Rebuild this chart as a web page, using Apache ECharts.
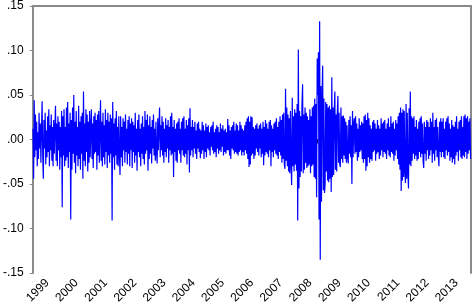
<!DOCTYPE html>
<html><head><meta charset="utf-8">
<script src="https://cdn.jsdelivr.net/npm/echarts@6/dist/echarts.min.js"></script>
<style>html,body{margin:0;padding:0;background:#fff}#c{width:473px;height:308px}</style>
</head><body><div id="c"></div>
<script>
const years = [1999,2000,2001,2002,2003,2004,2005,2006,2007,2008,2009,2010,2011,2012,2013];
const yTicks = [-0.15,-0.10,-0.05,0.00,0.05,0.10,0.15];
// approximate weekly-resolution readings of the daily return series, one array per year
const r1999 = [0.012,-0.044,0.044,-0.02,0.028,-0.012,0.02,-0.03,0.008,-0.022,0.03,-0.01,0.018,-0.026,0.012,0.043,-0.018,-0.044,0.022,-0.01,0.03,-0.028,0.01,-0.02,0.026,-0.014,0.034,-0.03,0.016,-0.012,0.028,-0.024,0.014,-0.03,0.022,-0.016,0.012,0.038,-0.024,0.018,-0.03,0.026,-0.012,0.02,-0.034,0.014,-0.02,0.032];
const r2000 = [-0.076,0.026,-0.018,0.034,-0.03,0.014,-0.024,0.036,-0.02,0.042,-0.032,0.018,-0.014,0.03,-0.09,0.022,-0.034,0.036,-0.016,0.05,-0.026,0.02,-0.038,0.032,-0.018,0.014,-0.03,0.038,-0.022,0.02,-0.034,0.026,-0.016,0.03,-0.044,0.054,-0.024,0.018,-0.03,0.034,-0.014,0.028,-0.036,0.02,-0.026,0.032,-0.02,0.016];
const r2001 = [0.034,-0.022,0.018,-0.032,0.026,-0.016,0.03,-0.014,0.022,-0.034,0.028,-0.018,0.032,-0.026,0.012,0.044,-0.024,0.02,-0.03,0.03,-0.02,0.016,-0.028,0.034,-0.014,0.022,-0.032,0.03,-0.018,0.02,-0.026,0.028,-0.016,0.024,-0.091,0.042,-0.02,0.018,-0.034,0.024,-0.018,0.032,-0.028,0.014,-0.03,0.026,-0.016,-0.04];
const r2002 = [0.026,-0.02,0.014,-0.03,0.024,-0.012,0.02,-0.026,0.028,-0.014,0.012,-0.028,0.022,-0.016,0.026,-0.03,0.018,-0.012,0.024,-0.032,0.02,-0.014,0.016,-0.026,0.03,-0.018,0.012,-0.035,0.022,-0.014,0.028,-0.02,0.012,-0.03,0.018,-0.016,0.026,-0.022,0.014,-0.028,0.032,-0.016,0.022,-0.012,0.028,-0.035,0.016,-0.022];
const r2003 = [0.026,-0.016,0.014,-0.027,0.022,-0.01,0.028,-0.018,0.012,-0.024,0.02,-0.014,-0.027,0.024,-0.012,0.014,0.036,-0.02,0.016,-0.012,0.026,-0.018,0.02,-0.026,0.012,-0.014,0.024,-0.02,0.016,-0.01,0.022,-0.026,0.014,-0.012,0.026,-0.018,0.03,-0.016,0.014,-0.042,0.022,-0.014,0.012,-0.024,0.018,-0.026,0.02,-0.012];
const r2004 = [0.024,-0.016,0.012,-0.026,0.02,-0.012,0.024,-0.018,0.026,-0.02,0.012,-0.016,0.022,-0.028,0.016,-0.012,0.024,-0.037,0.035,-0.018,0.014,-0.012,0.022,-0.02,0.014,-0.01,0.02,-0.016,0.01,-0.022,0.018,-0.01,0.02,-0.014,0.012,-0.021,0.01,-0.016,0.02,-0.012,0.016,-0.022,0.01,-0.014,0.018,-0.02,0.014,-0.01];
const r2005 = [0.016,-0.012,0.008,-0.018,0.014,-0.008,0.016,-0.012,0.02,-0.016,0.008,-0.014,0.012,-0.02,0.016,-0.01,0.014,-0.016,0.008,-0.012,0.018,-0.014,0.012,-0.008,0.016,-0.018,0.01,-0.014,0.012,-0.016,0.008,-0.012,0.023,-0.012,0.016,-0.018,0.01,-0.022,0.014,-0.01,0.016,-0.012,0.02,-0.016,0.01,-0.014,0.018,-0.016];
const r2006 = [0.016,-0.018,0.01,-0.014,0.02,-0.012,0.016,-0.018,0.012,-0.014,0.01,-0.018,0.016,-0.012,0.02,-0.016,0.024,-0.022,0.026,-0.031,0.02,-0.028,0.026,-0.018,0.025,-0.016,0.014,-0.022,0.012,-0.018,0.016,-0.01,0.018,-0.014,0.012,-0.018,0.016,-0.01,0.018,-0.02,0.012,-0.016,0.02,-0.029,0.014,-0.018,0.022,-0.014];
const r2007 = [0.018,-0.016,0.012,-0.02,0.02,-0.012,0.022,-0.03,0.016,-0.014,0.012,-0.02,0.018,-0.012,0.02,-0.016,0.024,-0.018,0.014,-0.022,0.02,-0.014,0.026,-0.018,0.022,-0.026,0.028,-0.022,0.03,-0.028,-0.033,0.057,-0.024,0.036,-0.03,0.028,-0.036,0.024,-0.038,0.032,-0.026,-0.051,0.047,-0.03,0.026,-0.036,0.034,-0.028];
const r2008 = [0.03,-0.035,0.04,-0.091,0.101,-0.055,0.032,-0.042,0.026,-0.036,0.04,0.062,-0.038,0.028,-0.034,0.036,-0.026,0.03,-0.032,0.026,-0.03,0.022,-0.028,0.034,-0.038,0.026,-0.03,0.036,-0.028,0.038,-0.042,0.046,-0.044,0.04,-0.065,0.091,0.05,0.098,-0.09,0.133,-0.135,0.06,-0.07,0.05,0.083,-0.057,0.046,-0.06];
const r2009 = [-0.05,0.042,-0.036,0.04,-0.046,0.036,-0.048,0.038,-0.044,0.034,-0.059,0.07,-0.042,0.036,-0.04,0.032,0.054,-0.034,0.028,-0.036,0.03,0.049,-0.026,0.03,-0.028,-0.031,0.036,-0.022,0.026,-0.026,0.027,-0.018,0.024,-0.022,0.02,-0.026,0.016,-0.02,-0.027,0.022,-0.016,0.026,-0.02,0.016,-0.05,0.032,-0.02,0.018];
const r2010 = [0.024,-0.016,0.026,-0.014,0.018,-0.024,0.012,-0.02,0.024,-0.014,0.016,-0.012,0.02,-0.022,0.018,-0.026,0.026,-0.022,0.028,-0.035,0.022,-0.03,0.03,-0.02,0.024,-0.026,0.016,-0.022,0.012,-0.024,0.02,-0.014,0.022,-0.012,0.018,-0.024,0.012,-0.016,0.022,-0.014,0.016,-0.022,0.012,-0.018,0.024,-0.012,0.018,-0.02];
const r2011 = [0.02,-0.014,0.022,-0.016,0.012,-0.022,0.018,-0.012,0.024,-0.018,0.014,-0.02,0.026,-0.014,0.018,-0.016,0.02,-0.024,0.012,-0.018,0.022,-0.012,0.018,-0.022,0.026,-0.028,0.03,-0.034,0.036,-0.058,0.03,-0.046,0.034,-0.042,0.032,-0.036,-0.049,0.04,-0.044,0.03,-0.038,-0.055,0.035,-0.028,0.054,-0.03,0.026,-0.024];
const r2012 = [0.024,-0.016,0.026,-0.022,0.014,-0.018,0.022,-0.024,0.012,-0.022,0.02,-0.014,0.024,-0.02,0.026,-0.016,0.018,-0.024,-0.032,0.02,-0.016,0.014,-0.024,0.022,-0.012,0.02,-0.022,0.014,-0.018,0.024,-0.012,0.02,-0.026,0.03,-0.016,0.014,-0.024,0.022,-0.012,0.024,-0.02,0.014,-0.018,-0.03,0.02,-0.014,0.024,-0.02];
const r2013 = [0.02,-0.014,0.024,-0.02,0.012,-0.022,0.02,-0.012,0.024,-0.018,0.026,-0.014,0.018,-0.024,0.012,-0.02,0.022,-0.026,0.016,-0.022,0.014,-0.028,0.02,-0.018,0.026,-0.014,0.012,-0.024,0.02,-0.012,0.022,-0.02,0.026,-0.022,0.014,-0.018,0.026,-0.02,0.028,-0.014,0.024,-0.022,0.026,-0.016,0.02,-0.012,0.024,-0.022];
const seriesByYear = [r1999,r2000,r2001,r2002,r2003,r2004,r2005,r2006,r2007,r2008,r2009,r2010,r2011,r2012,r2013];

const data = [];
seriesByYear.forEach((arr, k) => {
  arr.forEach((v, i) => data.push([years[k] + (i + 0.5) / arr.length, v]));
});

const FONT = '"Liberation Sans", Arial, Helvetica, sans-serif';
const GRAY = '#8a8a8a';
const chart = echarts.init(document.getElementById('c'), null, {renderer: 'canvas'});
const xMin = years[0], xMax = years[years.length - 1] + 1;
chart.setOption({
  animation: false,
  backgroundColor: '#fff',
  grid: {left: 30, right: 1, top: 5, bottom: 35, containLabel: false},
  xAxis: [
    { type: 'value', min: xMin, max: xMax, interval: 1, position: 'bottom',
      axisLine: {show: true, lineStyle: {color: '#555', width: 1}},
      axisTick: {show: true, length: 6, lineStyle: {color: GRAY, width: 2}},
      minorTick: {show: true, splitNumber: 4, length: 4, lineStyle: {color: '#111', width: 1}},
      axisLabel: {show: false}, splitLine: {show: false}, minorSplitLine: {show: false} },
    { type: 'value', min: xMin, max: xMax, interval: 0.5, position: 'bottom',
      axisLine: {show: false}, axisTick: {show: false}, splitLine: {show: false},
      axisLabel: { show: true, rotate: 45, margin: 8, fontFamily: FONT, fontSize: 12, color: '#000',
        formatter: v => (Math.abs(v - Math.floor(v) - 0.5) < 0.01 ? String(Math.floor(v)) : '') } },
    { type: 'value', min: xMin, max: xMax, position: 'top',
      axisLine: {show: true, lineStyle: {color: GRAY, width: 2}},
      axisTick: {show: false}, axisLabel: {show: false}, splitLine: {show: false} }
  ],
  yAxis: [
    { type: 'value', min: yTicks[0], max: yTicks[yTicks.length - 1], interval: 0.05, position: 'left',
      axisLine: {show: true, lineStyle: {color: GRAY, width: 2}},
      axisTick: {show: true, length: 3, lineStyle: {color: GRAY}},
      splitLine: {show: false},
      axisLabel: { margin: 9, fontFamily: FONT, fontSize: 12, color: '#000',
        formatter: v => (v < -1e-9 ? '-' : '') + Math.abs(v).toFixed(2).replace(/^0/, '') } },
    { type: 'value', min: yTicks[0], max: yTicks[yTicks.length - 1], position: 'right',
      axisLine: {show: true, lineStyle: {color: GRAY, width: 2}},
      axisTick: {show: false}, axisLabel: {show: false}, splitLine: {show: false} }
  ],
  series: [{
    type: 'line', data: data, xAxisIndex: 0, yAxisIndex: 0,
    showSymbol: false, symbol: 'none', sampling: null,
    lineStyle: {color: '#0000ff', width: 1.2}, z: 3
  }]
});
</script></body></html>
